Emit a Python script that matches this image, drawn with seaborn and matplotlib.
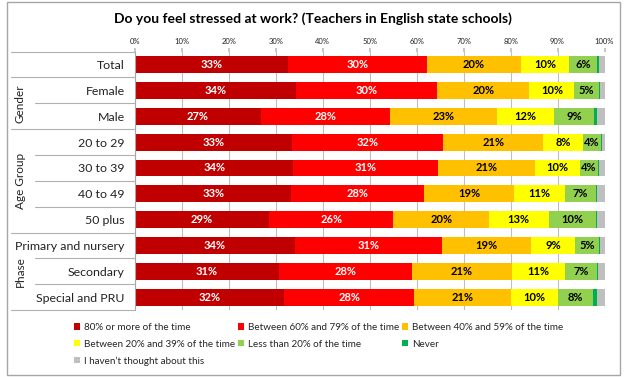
import numpy as np
import pandas as pd
import matplotlib
matplotlib.use("Agg")
import matplotlib.pyplot as plt
import seaborn as sns
from matplotlib.patches import Patch, Rectangle
from matplotlib.lines import Line2D
from matplotlib.transforms import blended_transform_factory

# ---------------- data ----------------
categories = ["Total", "Female", "Male", "20 to 29", "30 to 39", "40 to 49",
              "50 plus", "Primary and nursery", "Secondary", "Special and PRU"]
series_names = ["80% or more of the time", "Between 60% and 79% of the time",
                "Between 40% and 59% of the time", "Between 20% and 39% of the time",
                "Less than 20% of the time", "Never", "I haven\u2019t thought about this"]
s80_plus = [32.6, 34.2, 26.8, 33.4, 33.7, 33.3, 28.6, 34.0, 30.7, 31.8]
s60_79 = [29.5, 30.2, 27.6, 32.3, 30.8, 28.3, 26.4, 31.3, 28.2, 27.6]
s40_59 = [20.2, 19.6, 22.6, 21.3, 20.6, 19.1, 20.4, 19.1, 21.3, 20.6]
s20_39 = [10.1, 9.6, 12.2, 8.4, 9.6, 10.9, 12.7, 9.3, 11.4, 10.0]
s_lt20 = [6.0, 5.2, 8.6, 3.9, 3.9, 6.6, 10.0, 5.2, 6.7, 7.6]
s_never = [0.4, 0.3, 0.7, 0.2, 0.3, 0.3, 0.4, 0.2, 0.3, 0.9]
s_not_thought = [1.2, 0.9, 1.5, 0.5, 1.1, 1.5, 1.5, 0.9, 1.4, 1.5]
groups = ["Gender", "Age Group", "Phase"]
xticks = [0, 10, 20, 30, 40, 50, 60, 70, 80, 90, 100]
title = "Do you feel stressed at work? (Teachers in English state schools)"

series = [s80_plus, s60_79, s40_59, s20_39, s_lt20, s_never, s_not_thought]
colors = ["#C00000", "#FF0000", "#FFC000", "#FFFF00", "#92D050", "#00B050", "#BFBFBF"]
label_colors = ["white", "white", "black", "black", "black", "black", "black"]

df = pd.DataFrame({name: vals for name, vals in zip(series_names, series)}, index=categories)
cum = df.cumsum(axis=1)

# ---------------- figure ----------------
sns.set_theme(style="white")
plt.rcParams['font.family'] = ['Lato', 'DejaVu Sans']

W, H = 625, 377
fig = plt.figure(figsize=(W / 100, H / 100), dpi=100)
ax_top, ax_bot, ax_l, ax_r = 51.6, 310.2, 135, 604.5
ax = fig.add_axes([ax_l / W, 1 - ax_bot / H, (ax_r - ax_l) / W, (ax_bot - ax_top) / H])

# stacked bars via overlay of cumulative totals (largest first)
for k in range(len(series_names) - 1, -1, -1):
    plot_df = pd.DataFrame({"cat": categories, "val": cum[series_names[k]].values})
    sns.barplot(data=plot_df, x="val", y="cat", orient="h", color=colors[k],
                saturation=1, width=0.65, errorbar=None, linewidth=0, ax=ax,
                order=categories)

# segment labels
for k, name in enumerate(series_names):
    right = cum[name].values
    vals = df[name].values
    left = right - vals
    for i, v in enumerate(vals):
        if v >= 3:
            ax.text((left[i] + right[i]) / 2, i, f"{v:.0f}%", ha="center", va="center",
                    fontsize=8, fontweight="bold", color=label_colors[k])

ax.set_xlim(0, 100)
ax.set_ylim(len(categories) - 0.5, -0.5)
ax.set_xticks(xticks)
ax.set_xticklabels([f"{t}%" for t in xticks])
ax.xaxis.tick_top()
ax.set_xlabel("")
ax.set_ylabel("")
ax.grid(axis="x", color="#BFBFBF", linewidth=0.8)
ax.grid(axis="y", visible=False)
ax.set_axisbelow(True)
for s in ["top", "right", "bottom"]:
    ax.spines[s].set_visible(False)
ax.spines["left"].set_color("#A6A6A6")
ax.spines["left"].set_linewidth(0.8)
ax.tick_params(axis="x", top=True, bottom=False, length=3, color="#BFBFBF",
               labelsize=5.5, pad=1.5, labelcolor="#222222")
ax.tick_params(axis="y", length=0, pad=7.5, labelsize=8.9, labelcolor="#222222")

# table lines on the left
tr = blended_transform_factory(fig.transFigure, ax.transData)
full_bounds = [-0.5, 0.5, 2.5, 6.5, 9.5]
inner_bounds = [1.5, 3.5, 4.5, 5.5, 7.5, 8.5]
for b in full_bounds:
    fig.add_artist(Line2D([11 / W, ax_l / W], [b, b], transform=tr, color="#B0B0B0", lw=0.8))
for b in inner_bounds:
    fig.add_artist(Line2D([35 / W, ax_l / W], [b, b], transform=tr, color="#B0B0B0", lw=0.8))

group_centers = [1.5, 4.5, 8.0]
for g, c in zip(groups, group_centers):
    ax.text(20 / W, c, g, transform=tr, rotation=90, ha="center", va="center",
            fontsize=8.5, color="#222222")

# title
fig.text(0.5, 1 - 19 / H, title, ha="center", va="center", fontsize=10,
         fontweight="bold", color="black")

# legend (row-major order in 3 columns)
handles = [Patch(facecolor=c, edgecolor="none", label=n) for c, n in zip(colors, series_names)]
order = [0, 3, 6, 1, 4, 2, 5]
fig.legend([handles[i] for i in order], [series_names[i] for i in order],
           loc="upper left", bbox_to_anchor=(74 / W, 1 - 323 / H), ncol=3,
           frameon=False, fontsize=7.1, handlelength=0.6, handleheight=0.6,
           handletextpad=0.37, columnspacing=0.35, labelspacing=0.78, borderpad=0,
           borderaxespad=0)

# outer frame
fig.add_artist(Rectangle((7 / W, 2 / H), (620 - 7) / W, (375 - 2) / H, transform=fig.transFigure,
                         fill=False, edgecolor="#A6A6A6", lw=1))

fig.savefig("out.png", dpi=100)
